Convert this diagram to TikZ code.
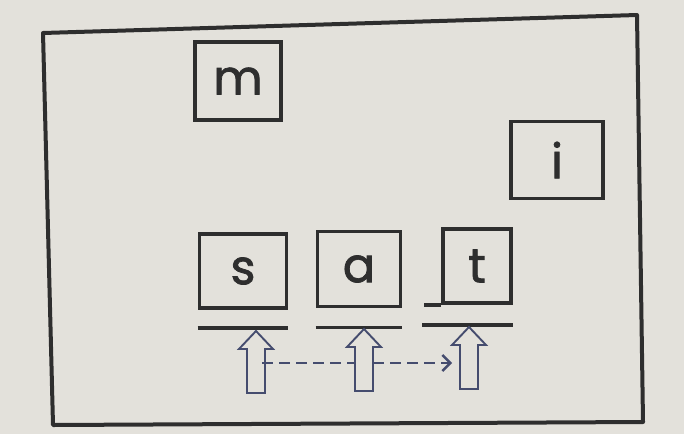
\documentclass[tikz,border=0pt]{standalone}
\usepackage{fontspec}
\setmainfont{Poppins}
\newfontfamily\letterfont{Poppins}[FakeBold=1.6]
\usetikzlibrary{arrows.meta,positioning}

\definecolor{paper}{HTML}{E3E1DB}
\definecolor{ink}{HTML}{2E2E2E}
\definecolor{arrowblue}{HTML}{454C6E}

\tikzset{
  letterbox/.style={draw=ink, line width=3.6pt, inner sep=0pt, text=ink,
    font=\letterfont\fontsize{48}{48}\selectfont},
  underline/.style={draw=ink, line width=3.4pt},
  hollow/.style={draw=arrowblue, line width=1.9pt, fill=paper, line join=miter},
  jump/.style={draw=arrowblue, line width=2.4pt, dash pattern=on 11pt off 6pt},
}

% hollow upward arrow: centre x, tip y
\newcommand\hollowup[2]{%
  \draw[hollow] (#1,#2) -- ++(17,18) -- ++(-8,0) -- ++(0,44)
    -- ++(-18,0) -- ++(0,-44) -- ++(-8,0) -- cycle;}

\begin{document}
\begin{tikzpicture}[x=1pt,y=-1pt]
  \useasboundingbox[fill=paper] (0,0) rectangle (684,434);
  % frame of the page
  \draw[ink, line width=4pt, line join=round]
    (43,33) -- (637,15) -- (643,422) -- (53,425) -- cycle;

  % loose letters
  \node[letterbox, minimum width=86pt, minimum height=78pt] (m) at (238,81) {m};
  \node[letterbox, minimum width=92pt, minimum height=77pt] (i) at (557,160) {i};

  % the word
  \node[letterbox, minimum width=87pt, minimum height=74pt] (s) at (243,271) {s};
  \node[letterbox, minimum width=83pt, minimum height=75pt] (a) at (359,269) {a};
  \node[letterbox, minimum width=68pt, minimum height=74pt] (t) at (477,266) {t};
  \draw[underline] ([xshift=-17pt]t.south west) -- (t.south west);

  % lines under the letters
  \draw[underline] ([yshift=-18pt]s.south west) -- ([yshift=-18pt]s.south east);
  \draw[underline] ([yshift=-19pt]a.south west) -- ([yshift=-19pt]a.south east);
  \draw[underline] ([xshift=-19pt,yshift=-20pt]t.south west) -- ([yshift=-20pt]t.south east);

  % pointing arrows
  \hollowup{256}{331}
  \hollowup{364}{329}
  \hollowup{469}{327}

  % reading path
  \coordinate (sgo) at (262,363);
  \coordinate (ain) at (355,363);
  \coordinate (aout) at (373,363);
  \coordinate (tin) at (452,363);
  \draw[jump] (sgo) -- (ain);
  \draw[jump, -{Straight Barb[length=8pt,width=16pt]}] (aout) -- (tin);
\end{tikzpicture}
\end{document}
